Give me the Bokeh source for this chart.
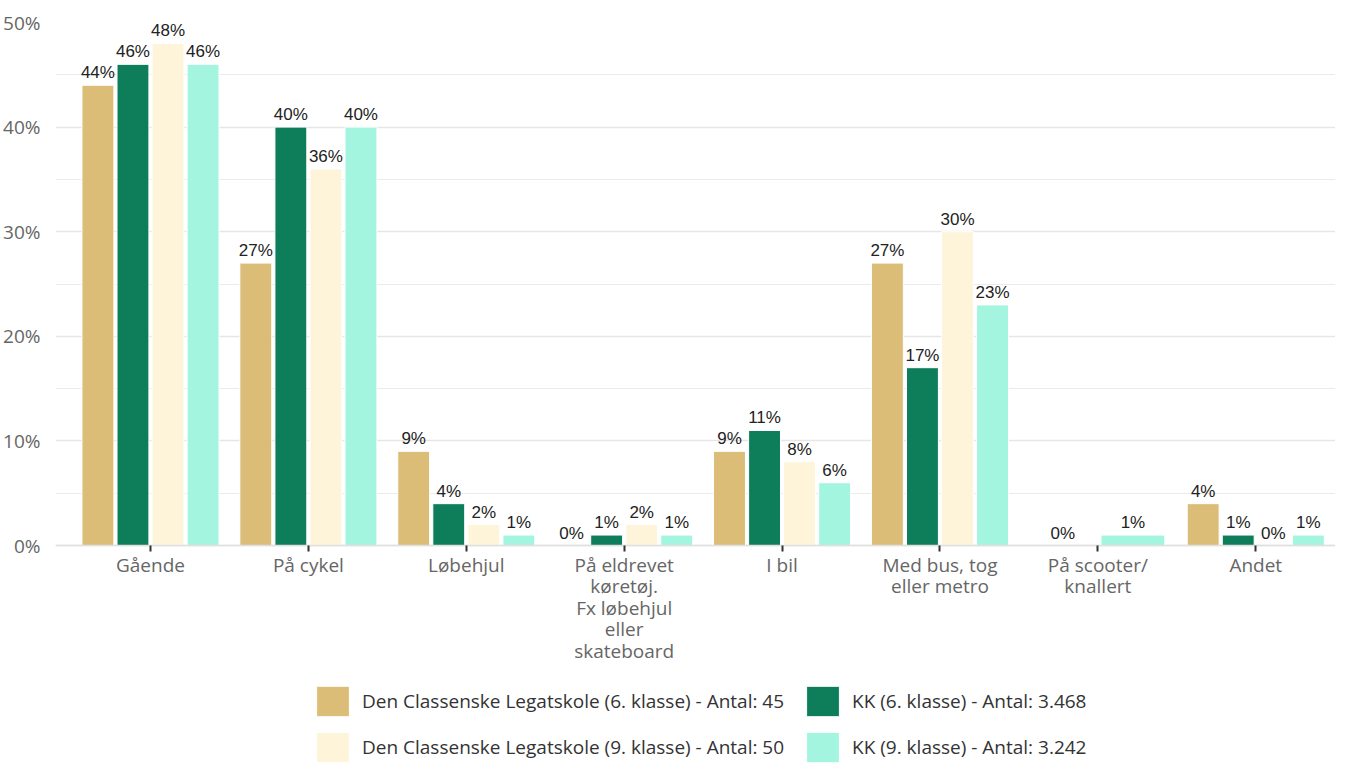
from bokeh.plotting import figure
from bokeh.models import (ColumnDataSource, FixedTicker, PrintfTickFormatter,
                          Legend, LegendItem, Range1d, LabelSet)
from bokeh.core.properties import value
from bokeh.embed import file_html
from bokeh.resources import INLINE

# ---- data ----
categories = ["Gående", "På cykel", "Løbehjul",
              "På eldrevet\nkøretøj.\nFx løbehjul\neller\nskateboard",
              "I bil", "Med bus, tog\neller metro", "På scooter/\nknallert", "Andet"]
series_names = ["Den Classenske Legatskole (6. klasse) - Antal: 45",
                "KK (6. klasse) - Antal: 3.468",
                "Den Classenske Legatskole (9. klasse) - Antal: 50",
                "KK (9. klasse) - Antal: 3.242"]
dc6 = [44, 27, 9, 0, 9, 27, 0, 4]
kk6 = [46, 40, 4, 1, 11, 17, None, 1]
dc9 = [48, 36, 2, 2, 8, 30, None, 0]
kk9 = [46, 40, 1, 1, 6, 23, 1, 1]
colors = ["#dbbd77", "#0e7e5a", "#fef4da", "#a3f5df"]
y_ticks = [0, 10, 20, 30, 40, 50]
y_minor = [5, 15, 25, 35, 45]

all_series = [dc6, kk6, dc9, kk9]

# positions (grouping among the series present in each category)
GROUP = 0.888
xs = [[] for _ in all_series]
ws = [[] for _ in all_series]
tops = [[] for _ in all_series]
labels = [[] for _ in all_series]
for ci in range(len(categories)):
    present = [si for si, s in enumerate(all_series) if s[ci] is not None]
    n = len(present)
    step = GROUP / n
    for k, si in enumerate(present):
        xs[si].append(ci + (k - (n - 1) / 2) * step)
        ws[si].append(step * 0.91)
        tops[si].append(all_series[si][ci])
        labels[si].append(f"{all_series[si][ci]}%")

FONT = "Open Sans"

# frame spans from top gridline (50%) down to the bottom of the canvas;
# the value axis keeps 0% at the category baseline
p = figure(width=1335, height=763, output_backend="svg", toolbar_location=None,
           x_range=Range1d(-0.6016, 7.505), y_range=Range1d(-20.84, 50),
           min_border_left=55, min_border_right=0, min_border_top=22, min_border_bottom=0)
p.outline_line_color = None
p.background_fill_color = "white"
p.border_fill_color = "white"

renderers = []
for si in range(4):
    src = ColumnDataSource(dict(x=xs[si], top=tops[si], w=ws[si], lab=labels[si]))
    r = p.vbar(x="x", top="top", width="w", bottom=0, source=src,
               fill_color=colors[si], line_color="white", line_width=1)
    renderers.append(r)
    ls = LabelSet(x="x", y="top", text="lab", source=src, text_align="center",
                  text_baseline="alphabetic", y_offset=7,
                  text_font=value("Liberation Sans"), text_font_size=value("17px"),
                  text_color=value("#222222"))
    p.add_layout(ls)

# grid / axes
p.xgrid.grid_line_color = None
p.ygrid.grid_line_color = "#e6e6e6"
p.ygrid.grid_line_width = 1.5
p.ygrid.minor_grid_line_color = "#ebebeb"
p.ygrid.minor_grid_line_width = 1.2

p.yaxis.ticker = FixedTicker(ticks=y_ticks, minor_ticks=y_minor)
p.yaxis.formatter = PrintfTickFormatter(format="%d%%")
p.yaxis.axis_line_color = None
p.yaxis.major_tick_line_color = None
p.yaxis.minor_tick_line_color = None
p.yaxis.major_label_text_font = FONT
p.yaxis.major_label_text_font_size = "19px"
p.yaxis.major_label_text_color = "#666666"
p.yaxis.major_label_standoff = 9

p.xaxis.fixed_location = 0
p.xaxis.ticker = FixedTicker(ticks=list(range(len(categories))))
p.xaxis.major_label_overrides = {i: c for i, c in enumerate(categories)}
p.xaxis.axis_line_color = "#e0e0e0"
p.xaxis.axis_line_width = 1.5
p.xaxis.major_tick_line_color = "#333333"
p.xaxis.major_tick_line_width = 2
p.xaxis.major_tick_out = 6
p.xaxis.major_tick_in = 0
p.xaxis.minor_tick_line_color = None
p.xaxis.major_label_text_font = FONT
p.xaxis.major_label_text_font_size = "19px"
p.xaxis.major_label_text_color = "#666666"
p.xaxis.major_label_text_line_height = 0.83
p.xaxis.major_label_standoff = 0

legend = Legend(items=[LegendItem(label=series_names[i], renderers=[renderers[i]]) for i in range(4)],
                orientation="horizontal", ncols=2, location=(257, -3),
                glyph_width=41, glyph_height=38, label_height=38, label_width=432,
                label_standoff=9, spacing=8,
                label_text_font=FONT, label_text_font_size="19px", label_text_color="#333333",
                border_line_color=None, background_fill_alpha=0, padding=0, margin=0)
p.add_layout(legend, "center")

open("out.html", "w").write(file_html(p, INLINE))
